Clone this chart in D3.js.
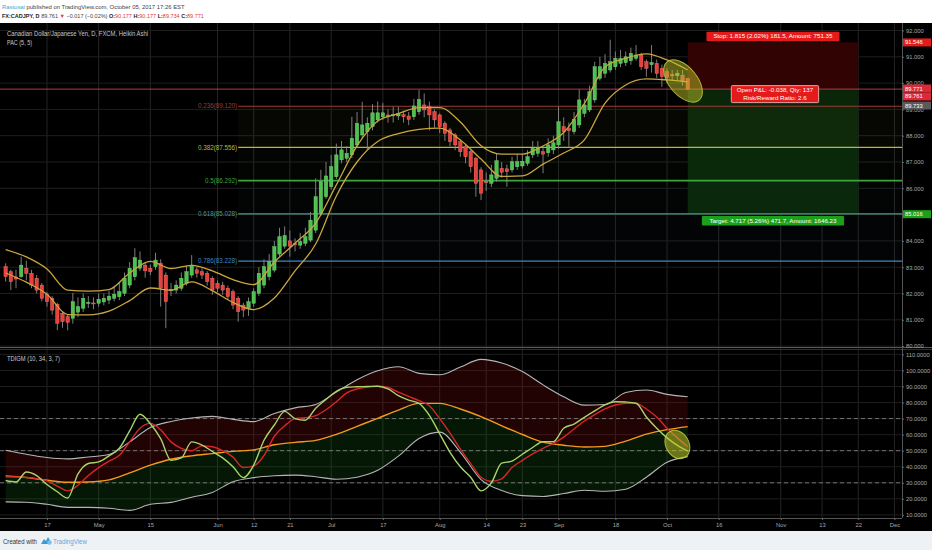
<!DOCTYPE html>
<html>
<head>
<meta charset="utf-8">
<style>
  body { margin: 0; background: #eef2f5; overflow: hidden; }
  text { font-family: "Liberation Sans", Arial, sans-serif; }
</style>
</head>
<body>
<svg id="chart" width="932" height="550"></svg>
<script src="https://cdn.jsdelivr.net/npm/d3@7"></script>
<script>
// ---- data ----
const firstDay = "2017-04-05";

// Heikin Ashi candles, one per trading day from firstDay
const haOpen = [83.02,82.83,82.63,82.64,82.96,82.77,82.58,82.32,81.97,81.82,81.59,81.25,81.12,81.06,81.29,81.44,81.63,81.64,81.63,81.68,
  81.75,81.82,81.88,82.01,82.32,82.64,82.96,83.08,82.96,83.02,83.15,82.70,82.10,82.13,82.20,82.39,82.70,82.90,82.83,82.77,
  82.58,82.39,82.32,82.20,82.07,81.82,81.56,81.44,81.63,82.01,82.32,82.64,82.89,83.50,83.80,84.00,83.90,83.84,83.91,84.03,
  84.41,85.05,85.68,86.06,86.44,87.08,87.14,87.27,87.65,88.03,88.15,88.34,88.60,88.72,88.79,88.76,88.75,88.80,88.75,88.72,
  88.91,89.17,89.10,88.91,88.79,88.47,88.22,88.03,87.77,87.58,87.39,87.14,86.70,86.25,86.19,86.38,86.76,86.74,86.70,86.82,
  86.85,86.95,87.27,87.33,87.39,87.35,87.46,87.65,88.34,88.28,88.15,88.41,88.85,88.98,89.36,90.18,90.37,90.50,90.62,90.75,
  90.78,90.85,90.94,91.07,90.81,90.70,90.75,90.56,90.43,90.33,90.28,90.30,90.177];
const haHigh = [83.15,82.90,82.90,83.40,83.25,82.90,82.70,82.40,82.05,81.90,81.65,81.30,81.20,82.02,81.85,82.00,81.90,81.85,82.00,82.00,
  82.10,82.30,82.40,82.80,83.20,83.72,83.60,83.20,83.10,83.55,83.30,82.80,82.40,82.50,82.80,83.05,83.46,83.00,82.95,82.85,
  82.65,82.50,82.45,82.30,82.15,81.90,81.65,81.85,82.20,83.00,83.30,83.50,84.00,84.50,84.55,84.40,84.10,84.30,84.50,85.10,
  86.38,86.70,87.00,87.27,87.70,87.80,87.60,88.72,88.90,89.29,88.70,89.20,89.30,89.25,89.00,89.10,89.10,88.95,88.90,89.40,
  89.74,89.61,89.30,89.00,88.85,88.55,88.30,88.10,87.85,87.65,87.45,87.20,86.80,86.60,86.90,87.33,87.00,86.90,87.20,87.30,
  87.30,87.45,87.80,87.80,87.60,87.90,88.00,89.10,88.70,88.50,88.90,89.76,89.40,89.90,90.81,91.00,91.10,91.65,91.20,91.26,
  91.20,91.35,91.45,91.15,90.90,91.45,90.90,90.70,90.55,90.50,90.50,90.50,90.177];
const haLow = [82.45,82.13,82.20,82.60,82.50,82.20,82.00,81.70,81.50,81.20,80.61,80.70,80.60,80.85,81.10,81.30,81.45,81.40,81.50,81.55,
  81.60,81.70,81.75,81.90,82.20,82.50,82.85,82.60,82.70,82.90,81.50,80.68,81.90,82.00,82.10,82.30,82.60,82.60,82.55,82.30,
  81.95,82.05,81.95,81.75,81.40,80.93,81.10,81.15,81.50,81.90,82.20,82.50,82.80,83.40,83.70,83.40,83.60,83.70,83.80,83.95,
  84.30,84.95,85.60,85.95,86.35,86.95,87.00,87.15,87.55,87.90,87.45,88.20,88.50,88.60,88.50,88.50,88.60,88.50,88.40,88.60,
  88.80,88.70,88.20,88.30,88.10,87.80,87.60,87.45,87.20,86.95,86.60,85.68,85.55,85.90,86.05,86.25,86.40,86.06,86.60,86.70,
  86.75,86.85,87.15,87.20,86.57,87.20,87.30,87.50,87.80,87.58,88.05,88.30,88.70,88.90,89.25,90.10,90.20,90.40,90.50,90.60,
  90.65,90.70,90.85,90.50,90.24,90.40,90.20,89.86,90.00,90.10,90.10,89.90,89.734];
const haClose = [82.64,82.45,82.55,83.08,82.77,82.32,82.13,81.82,81.69,81.37,80.87,80.93,80.90,81.69,81.50,81.82,81.66,81.62,81.78,81.82,
  81.90,81.97,82.07,82.58,82.96,83.36,83.27,82.86,82.83,83.27,82.20,81.69,82.15,82.32,82.58,82.83,83.08,82.77,82.70,82.45,
  82.13,82.20,82.13,81.88,81.56,81.31,81.37,81.69,82.07,82.77,83.02,83.21,83.78,84.16,84.20,83.80,83.85,83.97,84.16,84.79,
  85.68,86.25,86.47,86.82,87.27,87.46,87.33,87.90,88.47,88.41,88.47,88.87,88.87,88.87,88.72,88.80,88.85,88.72,88.62,89.13,
  89.38,88.98,88.79,88.60,88.34,88.09,87.77,87.65,87.39,87.20,86.82,86.19,85.81,86.22,86.51,87.05,86.61,86.63,87.01,87.01,
  87.03,87.20,87.56,87.52,87.30,87.65,87.73,88.53,88.15,88.19,88.62,89.36,89.17,89.67,90.62,90.62,90.75,90.81,90.94,90.94,
  91.00,91.13,91.07,90.62,90.56,90.78,90.37,90.24,90.22,90.27,90.37,90.05,89.771];

// PAC (5, 5) channel, one reading every pacStep trading days
const pacStep = 4;
const pacUpper = [83.67,83.39,82.93,82.13,82.09,82.15,82.78,83.22,82.95,83.07,82.86,82.53,82.34,83.20,83.91,84.68,86.13,
  87.61,88.56,88.84,89.07,89.07,88.52,87.62,87.30,87.30,87.61,88.12,89.22,90.61,90.94,91.11,90.88,90.50];
const pacLower = [82.78,82.43,81.97,81.20,81.19,81.33,81.73,82.21,82.13,82.44,82.11,81.66,81.39,81.83,82.86,83.88,85.71,
  87.00,87.78,88.08,88.24,88.29,87.84,87.11,86.45,86.47,86.92,87.34,87.84,89.24,89.93,90.16,90.12,90.05];

// TDIGM (10, 34, 3, 7)
const bandStep = 4;
const tdiUpper = [50.3,47.8,45.8,44.9,46.1,47.6,55.5,64.5,68.2,70.4,71.4,69.5,68.1,73.2,76.7,78.8,86.5,
  94.2,99.8,102.3,98.2,97.3,102.1,106.9,104.6,99.3,91,83.6,78.4,78.8,86.3,87.8,85.1,83.6];
const tdiMiddle = [34.3,33.3,31.6,30.3,30.5,31.8,36.2,41,44.7,46.8,48.2,49.6,50.5,53.7,55.2,56.4,60.2,
  65.2,70.2,75.3,79.5,79.5,76,71.2,65.5,60.1,55.3,53.4,52.3,52.7,56,60.3,63.1,65];
const tdiLower = [18.1,17.9,16.6,14.7,14.7,14.1,12.8,16.6,17.8,21.0,24.0,30.7,33.2,34.4,34.8,33.8,32.2,
  33.5,37.8,46.6,57.6,61.6,49,32,25.2,22,21.5,23.3,25.4,24.7,26,33.5,42.8,46.3];
const lineStep = 2;
const tdiPrice = [31.4,30.5,36.7,34.5,28.9,24.4,20.5,35.5,42,43,46.8,51.5,62.3,72.7,66.8,57.5,44,45.5,55.5,53.5,
  49.5,45.5,40,33.2,41,56.5,66,74.5,70,69,76.5,82,87,89.5,89.8,90,90.2,88.5,84.3,81.5,
  79.5,72,60.5,49,40,33.5,25,30,42.3,43.5,47.8,52,55.6,55.6,64,66.6,70.8,74.8,78.6,80.5,
  80.3,79.6,71,64,58,53.3,49.8];
const tdiSignal = [33.7,33.6,33.4,32.6,31.2,28,25,28.5,34.5,39.5,43.5,47.1,55.5,64,67,63,55.5,51.5,50,53,
  52.5,50,46,39.5,40.5,47,59,65.5,70,70.6,71.8,75.5,80.5,86,88.5,89.6,90.2,89.4,86.5,83.8,
  81.2,78,70,61,51,42,33.5,31,32.5,39.5,44,48,51.5,54.5,58.5,63.5,68.5,72.5,76,78.5,
  79.5,79.5,76,71,64,58,52.5];
const tdiLevels = [70, 50, 30];

// Fibonacci retracement
const fibStart = "2017-06-07";
const fibRatios = ["0.236", "0.382", "0.5", "0.618", "0.786"];
const fibPrices = [89.120, 87.556, 86.292, 85.028, 83.228];
const fibColors = ["#9c3b36", "#b9b838", "#3ca63c", "#4f9a88", "#3c88bd"];

// Long/short position tool
const posStart = "2017-10-06", posEnd = "2017-11-22";
const posStop = 91.546, posEntry = 89.733, posTarget = 85.016;
const lastPrice = 89.771, bidPrice = 89.761;

// axes
const priceTicks = [80, 81, 82, 83, 84, 85, 86, 87, 88, 89, 90, 91, 92];
const tdiTicks = [10, 20, 30, 40, 50, 60, 70, 80, 90, 100, 110];
const tickDates = ["2017-04-17","2017-05-01","2017-05-15","2017-06-01","2017-06-12","2017-06-21","2017-07-03","2017-07-17",
  "2017-08-01","2017-08-14","2017-08-23","2017-09-01","2017-09-18","2017-10-02","2017-10-16","2017-11-01","2017-11-13",
  "2017-11-22","2017-12-01"];
const tickLabels = ["17","May","15","Jun","12","21","Jul","17","Aug","14","23","Sep","18","Oct","16","Nov","13","22","Dec"];

// ---- trading-day calendar (weekdays only, like the FX chart) ----
const fmt = d3.utcFormat("%Y-%m-%d");
const days = [];
for (let d = d3.utcParse("%Y-%m-%d")(firstDay); days.length < 180; d = d3.utcDay.offset(d, 1)) {
  const wd = d.getUTCDay();
  if (wd !== 0 && wd !== 6) days.push(fmt(d));
}
const dayIdx = s => days.indexOf(s);

// ---- layout ----
const W = 932, H = 550;
const plotRight = 902;
const upTop = 23, upBottom = 347, loTop = 349, loBottom = 518, axisBottom = 531;

const x = d3.scaleLinear().domain([-1.095, 173.47]).range([0, plotRight]);
const yP = d3.scaleLinear().domain([80, 92]).range([346.1, 30.5]);
const yT = d3.scaleLinear().domain([10, 110]).range([514.9, 354.4]);

const svg = d3.select("#chart");
const defs = svg.append("defs");
defs.append("clipPath").attr("id", "clipUp").append("rect")
  .attr("x", 0).attr("y", upTop).attr("width", plotRight).attr("height", upBottom - upTop);
defs.append("clipPath").attr("id", "clipLo").append("rect")
  .attr("x", 0).attr("y", loTop).attr("width", plotRight).attr("height", loBottom - loTop);

svg.append("rect").attr("width", W).attr("height", H).attr("fill", "#eef2f5");
svg.append("rect").attr("width", W).attr("height", upTop).attr("fill", "#ffffff");
svg.append("rect").attr("y", upTop).attr("width", W).attr("height", axisBottom - upTop).attr("fill", "#000");

// ---- grid ----
const grid = svg.append("g");
grid.selectAll("line.v").data(tickDates).join("line")
  .attr("x1", d => x(dayIdx(d))).attr("x2", d => x(dayIdx(d)))
  .attr("y1", upTop).attr("y2", loBottom)
  .attr("stroke", "#242424").attr("stroke-width", 1);
grid.selectAll("line.hp").data(priceTicks).join("line")
  .attr("x1", 0).attr("x2", plotRight).attr("y1", d => yP(d)).attr("y2", d => yP(d))
  .attr("stroke", "#1e1e1e");
grid.selectAll("line.ht").data(tdiTicks).join("line")
  .attr("x1", 0).attr("x2", plotRight).attr("y1", d => yT(d)).attr("y2", d => yT(d))
  .attr("stroke", "#1e1e1e");

// ---- upper pane ----
const up = svg.append("g").attr("clip-path", "url(#clipUp)");

// position tool boxes
const px0 = x(dayIdx(posStart)), px1 = x(dayIdx(posEnd));
up.append("rect").attr("x", px0).attr("width", px1 - px0)
  .attr("y", yP(posStop)).attr("height", yP(posEntry) - yP(posStop)).attr("fill", "#320303");
up.append("rect").attr("x", px0).attr("width", px1 - px0)
  .attr("y", yP(posEntry)).attr("height", yP(posTarget) - yP(posEntry)).attr("fill", "#092609");

// fib bands and lines
const fx0 = x(dayIdx(fibStart));
fibPrices.forEach((p, k) => {
  if (k < fibPrices.length - 1) {
    up.append("rect").attr("x", fx0).attr("width", plotRight - fx0)
      .attr("y", yP(p)).attr("height", yP(fibPrices[k + 1]) - yP(p))
      .attr("fill", fibColors[k + 1]).attr("opacity", 0.03);
  }
});
up.selectAll("line.fib").data(fibPrices).join("line")
  .attr("x1", fx0).attr("x2", plotRight)
  .attr("y1", d => yP(d)).attr("y2", d => yP(d))
  .attr("stroke", (d, k) => fibColors[k]).attr("stroke-width", (d, k) => k === 2 ? 1.6 : 1.2);
up.selectAll("text.fib").data(fibPrices).join("text")
  .attr("x", fx0 - 1).attr("y", d => yP(d) + 2.2)
  .attr("text-anchor", "end").attr("font-size", 6.3)
  .attr("fill", (d, k) => fibColors[k])
  .text((d, k) => `${fibRatios[k]}(${d.toFixed(3)})`);

// last price line
up.append("line").attr("x1", 0).attr("x2", plotRight)
  .attr("y1", yP(lastPrice)).attr("y2", yP(lastPrice))
  .attr("stroke", "#c84a55").attr("stroke-width", 1).attr("opacity", 0.85);

// candles
const candles = haOpen.map((o, i) => ({ i, o, h: haHigh[i], l: haLow[i], c: haClose[i] }));
const upCol = "#4fc150", dnCol = "#e8403a";
up.selectAll("line.wick").data(candles).join("line")
  .attr("x1", d => x(d.i)).attr("x2", d => x(d.i))
  .attr("y1", d => yP(d.h)).attr("y2", d => yP(d.l))
  .attr("stroke", "#8a8a8a").attr("stroke-width", 0.9);
up.selectAll("rect.body").data(candles).join("rect")
  .attr("x", d => x(d.i) - 1.7).attr("width", 3.4)
  .attr("y", d => yP(Math.max(d.o, d.c)))
  .attr("height", d => Math.max(1, Math.abs(yP(d.o) - yP(d.c))))
  .attr("fill", d => d.c >= d.o ? upCol : dnCol)
  .attr("stroke", d => d.c >= d.o ? "#7fe07f" : "#ff7a70").attr("stroke-width", 0.4);

// PAC channel
const pacLine = d3.line().x((d, k) => x(k * pacStep)).y(d => yP(d)).curve(d3.curveMonotoneX);
[pacUpper, pacLower].forEach(arr => {
  up.append("path").attr("d", pacLine(arr)).attr("fill", "none")
    .attr("stroke", "#c9a73e").attr("stroke-width", 1.3);
});

// highlight ellipse
up.append("ellipse")
  .attr("transform", `translate(${x(131.1)},${yP(90.08)}) rotate(50)`)
  .attr("rx", 25).attr("ry", 14)
  .attr("fill", "rgba(190,195,40,0.5)").attr("stroke", "rgba(205,210,70,0.8)").attr("stroke-width", 1);

// position labels
const pcx = (px0 + px1) / 2;
function boxLabel(g, cx, cy, lines, fill, stroke) {
  const w = d3.max(lines, s => s.length) * 3.05 + 8, h = lines.length * 7.5 + 2;
  g.append("rect").attr("x", cx - w / 2).attr("y", cy - h / 2).attr("width", w).attr("height", h)
    .attr("fill", fill).attr("stroke", stroke).attr("stroke-width", 0.8).attr("rx", 1);
  lines.forEach((s, k) => {
    g.append("text").attr("x", cx).attr("y", cy - h / 2 + 6.8 + k * 7.5)
      .attr("text-anchor", "middle").attr("font-size", 6.2).attr("fill", "#fff").text(s);
  });
}
boxLabel(svg, pcx, yP(posStop) - 6, ["Stop: 1.815 (2.02%) 181.5, Amount: 751.35"], "#e51b1b", "none");
boxLabel(svg, pcx + 2, yP(posEntry) + 4, ["Open P&L: -0.038, Qty: 137", "Risk/Reward Ratio: 2.6"], "#e51b1b", "#f0c8c8");
boxLabel(svg, pcx, yP(posTarget) + 6.5, ["Target: 4.717 (5.26%) 471.7, Amount: 1646.23"], "#1ca01c", "none");

// ---- lower pane ----
const lo = svg.append("g").attr("clip-path", "url(#clipLo)");
const bands = tdiUpper.map((u, k) => ({ k, u, m: tdiMiddle[k], l: tdiLower[k] }));
lo.append("path")
  .attr("d", d3.area().x(d => x(d.k * bandStep)).y0(d => yT(d.m)).y1(d => yT(d.u)).curve(d3.curveMonotoneX)(bands))
  .attr("fill", "rgba(150,15,15,0.22)");
lo.append("path")
  .attr("d", d3.area().x(d => x(d.k * bandStep)).y0(d => yT(d.l)).y1(d => yT(d.m)).curve(d3.curveMonotoneX)(bands))
  .attr("fill", "rgba(25,120,25,0.2)");
lo.selectAll("line.lvl").data(tdiLevels).join("line")
  .attr("x1", 0).attr("x2", plotRight).attr("y1", d => yT(d)).attr("y2", d => yT(d))
  .attr("stroke", "#8a8a8a").attr("stroke-dasharray", "4,3").attr("stroke-width", 0.8);

const bandLine = d3.line().x((d, k) => x(k * bandStep)).y(d => yT(d)).curve(d3.curveMonotoneX);
const sigLine = d3.line().x((d, k) => x(k * lineStep)).y(d => yT(d)).curve(d3.curveMonotoneX);
lo.append("path").attr("d", bandLine(tdiUpper)).attr("fill", "none").attr("stroke", "#b5b5b5").attr("stroke-width", 1.1);
lo.append("path").attr("d", bandLine(tdiLower)).attr("fill", "none").attr("stroke", "#b5b5b5").attr("stroke-width", 1.1);
lo.append("path").attr("d", bandLine(tdiMiddle)).attr("fill", "none").attr("stroke", "#f39a1c").attr("stroke-width", 1.4);
lo.append("path").attr("d", sigLine(tdiSignal)).attr("fill", "none").attr("stroke", "#d8252a").attr("stroke-width", 1.4);
lo.append("path").attr("d", sigLine(tdiPrice)).attr("fill", "none").attr("stroke", "#a9d46c").attr("stroke-width", 1.4);

lo.append("ellipse")
  .attr("transform", `translate(${x(130)},${yT(53.9)}) rotate(60)`)
  .attr("rx", 15).attr("ry", 11.5)
  .attr("fill", "rgba(190,195,40,0.55)").attr("stroke", "rgba(205,210,70,0.8)").attr("stroke-width", 1);

// ---- frames and axes ----
svg.append("line").attr("x1", 0).attr("x2", W).attr("y1", upBottom + 0.5).attr("y2", upBottom + 0.5).attr("stroke", "#5a5a5a");
svg.append("line").attr("x1", 0).attr("x2", W).attr("y1", loTop + 0.5).attr("y2", loTop + 0.5).attr("stroke", "#2e2e2e");
svg.append("line").attr("x1", 0).attr("x2", plotRight).attr("y1", loBottom + 0.5).attr("y2", loBottom + 0.5).attr("stroke", "#555");
svg.append("line").attr("x1", plotRight + 0.5).attr("x2", plotRight + 0.5).attr("y1", upTop).attr("y2", loBottom).attr("stroke", "#555");

function styleAxis(g) {
  g.select(".domain").remove();
  g.selectAll(".tick line").attr("stroke", "#666");
  g.selectAll(".tick text").attr("fill", "#a8a8a8").attr("font-size", 5.8)
    .attr("font-family", "Liberation Sans, Arial, sans-serif");
}
svg.append("g").attr("transform", `translate(${plotRight},0)`)
  .call(d3.axisRight(yP).tickValues(priceTicks).tickSize(2).tickPadding(2).tickFormat(d3.format(".3f")))
  .call(styleAxis);
svg.append("g").attr("transform", `translate(${plotRight},0)`)
  .call(d3.axisRight(yT).tickValues(tdiTicks).tickSize(2).tickPadding(2).tickFormat(d3.format(".4f")))
  .call(styleAxis);
svg.append("g").attr("transform", `translate(0,${loBottom})`)
  .call(d3.axisBottom(x).tickValues(tickDates.map(dayIdx)).tickSize(2).tickPadding(3)
    .tickFormat((d, k) => tickLabels[k]))
  .call(styleAxis);

// right-axis price tags
function priceTag(y, label, fill) {
  svg.append("rect").attr("x", plotRight + 1).attr("y", y - 4).attr("width", 28).attr("height", 8).attr("fill", fill);
  svg.append("text").attr("x", plotRight + 3).attr("y", y + 2).attr("font-size", 5.8).attr("fill", "#fff").text(label);
}
priceTag(yP(posStop), posStop.toFixed(3), "#e51b1b");
priceTag(yP(lastPrice) - 0.6, lastPrice.toFixed(3), "#d92a35");
priceTag(yP(bidPrice) + 7.1, bidPrice.toFixed(3), "#d92a35");
priceTag(yP(posEntry) + 15.4, posEntry.toFixed(3), "#5a5a5a");
priceTag(yP(posTarget), posTarget.toFixed(3), "#1ca01c");

// ---- legends ----
svg.append("text").attr("x", 7).attr("y", 35.5).attr("font-size", 6.3).attr("fill", "#c9c9c9")
  .attr("textLength", 141).attr("lengthAdjust", "spacingAndGlyphs")
  .text("Canadian Dollar/Japanese Yen, D, FXCM, Heikin Ashi");
svg.append("text").attr("x", 7).attr("y", 44.5).attr("font-size", 6.3).attr("fill", "#c9c9c9")
  .attr("textLength", 25).attr("lengthAdjust", "spacingAndGlyphs").text("PAC (5, 5)");
svg.append("text").attr("x", 7).attr("y", 360.5).attr("font-size", 6.3).attr("fill", "#c9c9c9")
  .attr("textLength", 53).attr("lengthAdjust", "spacingAndGlyphs").text("TDIGM (10, 34, 3, 7)");

// ---- header ----
const h1 = svg.append("text").attr("x", 2).attr("y", 8.5).attr("font-size", 5.9);
h1.append("tspan").attr("fill", "#3aa7d8").text("Rastosai");
h1.append("tspan").attr("fill", "#444").text(" published on TradingView.com, October 05, 2017 17:26 EST");

const h2 = svg.append("text").attr("x", 2).attr("y", 17.5).attr("font-size", 5.5);
h2.append("tspan").attr("fill", "#222").attr("font-weight", "bold").text("FX:CADJPY, D ");
h2.append("tspan").attr("fill", "#444").text("89.761 ");
h2.append("tspan").attr("fill", "#e0383e").text("▼");
h2.append("tspan").attr("fill", "#444").text(" \u22120.017 (\u22120.02%) ");
[["O:", "90.177"], ["H:", "90.177"], ["L:", "89.734"], ["C:", "89.771"]].forEach(([k, v]) => {
  h2.append("tspan").attr("fill", "#222").attr("font-weight", "bold").text(k);
  h2.append("tspan").attr("fill", "#e0383e").text(v + " ");
});

// ---- footer ----
svg.append("text").attr("x", 3).attr("y", 543.5).attr("font-size", 6.6).attr("fill", "#333")
  .attr("textLength", 34).attr("lengthAdjust", "spacingAndGlyphs").text("Created with");
const logo = svg.append("g").attr("transform", "translate(41,537)");
logo.append("path").attr("d", "M0,7 L3,2 L5,4 L7,0 L10,5 L8,7 Z").attr("fill", "#3c9ad8");
logo.append("circle").attr("cx", 8.5).attr("cy", 5.5).attr("r", 2.2).attr("fill", "#7cc0ec");
svg.append("text").attr("x", 53).attr("y", 543.5).attr("font-size", 6.6).attr("fill", "#5aa9e0")
  .attr("textLength", 34).attr("lengthAdjust", "spacingAndGlyphs").text("TradingView");
</script>
</body>
</html>
